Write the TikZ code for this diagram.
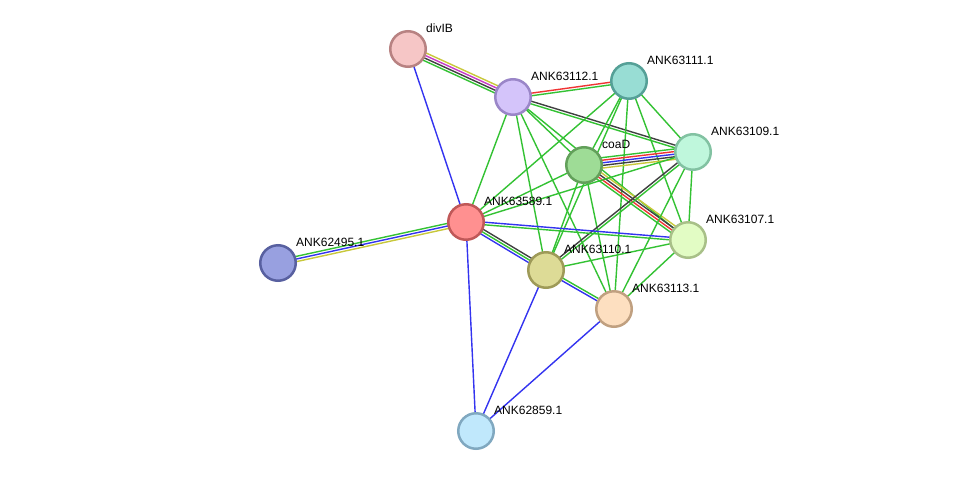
\documentclass[tikz,border=0pt]{standalone}
\usepackage{fontspec}
\setmainfont{Liberation Sans}
\usetikzlibrary{calc,backgrounds}
\definecolor{eg}{HTML}{33C233}
\definecolor{eb}{HTML}{3333F0}
\definecolor{er}{HTML}{F03333}
\definecolor{ek}{HTML}{404040}
\definecolor{ey}{HTML}{C8C83A}
\definecolor{em}{HTML}{C83AC8}
\definecolor{fA}{HTML}{F6C6C6}\definecolor{dA}{HTML}{B88282}
\definecolor{fB}{HTML}{D4C4FA}\definecolor{dB}{HTML}{9A86C8}
\definecolor{fC}{HTML}{98DDD4}\definecolor{dC}{HTML}{55A097}
\definecolor{fD}{HTML}{BFF7DC}\definecolor{dD}{HTML}{82C2A2}
\definecolor{fE}{HTML}{9EDC96}\definecolor{dE}{HTML}{62A05A}
\definecolor{fF}{HTML}{FF9090}\definecolor{dF}{HTML}{C05858}
\definecolor{fG}{HTML}{98A0E0}\definecolor{dG}{HTML}{5860A0}
\definecolor{fH}{HTML}{E2FCC4}\definecolor{dH}{HTML}{A8C088}
\definecolor{fI}{HTML}{DDDB96}\definecolor{dI}{HTML}{9E9A58}
\definecolor{fJ}{HTML}{FDDFC0}\definecolor{dJ}{HTML}{C0A080}
\definecolor{fK}{HTML}{C0E8FC}\definecolor{dK}{HTML}{80A8C0}
\tikzset{
  prot/.style 2 args={circle, minimum size=35.5pt, inner sep=0pt, line width=2.5pt, fill=#1, draw=#2},
  lbl/.style={anchor=base west, font=\fontsize{12pt}{14pt}\selectfont, text=black, inner sep=0pt},
  eline/.style={line width=1.4pt},
}
\newcommand\sedge[4]{%
  \foreach \ec [count=\ei] in {#4} {
    \pgfmathsetmacro\eoff{(\ei-1-(#3-1)/2)*2.6}
    \draw[eline,\ec] ($(#1)!\eoff pt!90:(#2)$) -- ($(#2)!\eoff pt!-90:(#1)$);
  }%
}
\begin{document}
\begin{tikzpicture}[x=1pt,y=-1pt]
\useasboundingbox (0,0) rectangle (975,477);
% nodes
\node[prot={fA}{dA}] (divIB) at (408,49) {};
\node[prot={fB}{dB}] (n112) at (513,97) {};
\node[prot={fC}{dC}] (n111) at (629,81) {};
\node[prot={fD}{dD}] (n109) at (693,152) {};
\node[prot={fE}{dE}] (coaD) at (584,165) {};
\node[prot={fF}{dF}] (n589) at (466,222) {};
\node[prot={fG}{dG}] (n495) at (278,263) {};
\node[prot={fH}{dH}] (n107) at (688,240) {};
\node[prot={fI}{dI}] (n110) at (546,270) {};
\node[prot={fJ}{dJ}] (n113) at (614,309) {};
\node[prot={fK}{dK}] (n859) at (476,431) {};
% labels
\node[lbl] (ldivIB) at ([shift={(18,-16.5)}]divIB.center) {divIB};
\node[lbl] (l112) at ([shift={(18,-16.5)}]n112.center) {ANK63112.1};
\node[lbl] (l111) at ([shift={(18,-16.5)}]n111.center) {ANK63111.1};
\node[lbl] (l109) at ([shift={(18,-16.5)}]n109.center) {ANK63109.1};
\node[lbl] (lcoaD) at ([shift={(18,-16.5)}]coaD.center) {coaD};
\node[lbl] (l589) at ([shift={(18,-16.5)}]n589.center) {ANK63589.1};
\node[lbl] (l495) at ([shift={(18,-16.5)}]n495.center) {ANK62495.1};
\node[lbl] (l107) at ([shift={(18,-16.5)}]n107.center) {ANK63107.1};
\node[lbl] (l110) at ([shift={(18,-16.5)}]n110.center) {ANK63110.1};
\node[lbl] (l113) at ([shift={(18,-16.5)}]n113.center) {ANK63113.1};
\node[lbl] (l859) at ([shift={(18,-16.5)}]n859.center) {ANK62859.1};
% edges
\begin{scope}[on background layer]
\fill[white] (0,0) rectangle (975,477);
\sedge{divIB}{n112}{4}{eg,ek,em,ey}
\sedge{divIB}{n589}{1}{eb}
\sedge{n112}{n111}{2}{eg,er}
\sedge{n112}{n109}{2}{eg,ek}
\sedge{n112}{coaD}{1}{eg}
\sedge{n112}{n107}{1}{eg}
\sedge{n112}{n110}{1}{eg}
\sedge{n112}{n113}{1}{eg}
\sedge{n112}{n589}{1}{eg}
\sedge{n111}{coaD}{1}{eg}
\sedge{n111}{n109}{1}{eg}
\sedge{n111}{n107}{1}{eg}
\sedge{n111}{n110}{1}{eg}
\sedge{n111}{n113}{1}{eg}
\sedge{n111}{n589}{1}{eg}
\sedge{coaD}{n109}{5}{ey,ek,eb,er,eg}
\sedge{coaD}{n107}{4}{eg,er,ek,ey}
\sedge{coaD}{n589}{1}{eg}
\sedge{coaD}{n110}{1}{eg}
\sedge{coaD}{n113}{1}{eg}
\sedge{n109}{n107}{1}{eg}
\sedge{n109}{n110}{2}{ek,eg}
\sedge{n109}{n113}{1}{eg}
\sedge{n109}{n589}{1}{eg}
\sedge{n107}{n589}{2}{eb,eg}
\sedge{n107}{n110}{1}{eg}
\sedge{n107}{n113}{1}{eg}
\sedge{n589}{n110}{3}{eb,eg,ek}
\sedge{n110}{n113}{2}{eb,eg}
\sedge{n589}{n495}{3}{eg,eb,ey}
\sedge{n589}{n859}{1}{eb}
\sedge{n110}{n859}{1}{eb}
\sedge{n113}{n859}{1}{eb}
\end{scope}
\end{tikzpicture}
\end{document}
